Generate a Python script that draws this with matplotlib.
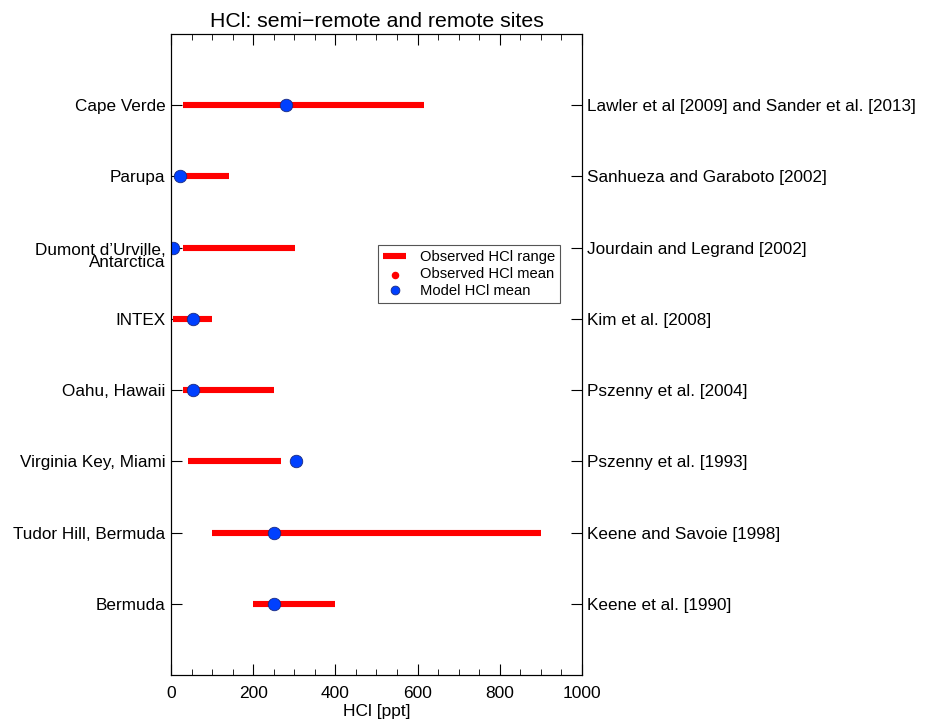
import matplotlib.pyplot as plt
import matplotlib.transforms as mtransforms
from matplotlib.ticker import MultipleLocator

plt.rcParams['font.family'] = ['Liberation Sans', 'DejaVu Sans']

# sites from bottom to top
sites = ["Bermuda", "Tudor Hill, Bermuda", "Virginia Key, Miami", "Oahu, Hawaii",
         "INTEX", "Dumont d\u2019Urville,\nAntarctica", "Parupa", "Cape Verde"]
refs = ["Keene et al. [1990]", "Keene and Savoie [1998]", "Pszenny et al. [1993]",
        "Pszenny et al. [2004]", "Kim et al. [2008]", "Jourdain and Legrand [2002]",
        "Sanhueza and Garaboto [2002]", "Lawler et al [2009] and Sander et al. [2013]"]
obs_min = [200, 100, 40, 30, 4, 30, 10, 29]
obs_max = [400, 900, 267, 250, 100, 301, 140, 616]
model_mean = [250, 250, 303, 53, 54, 5, 22, 280]

pos = list(range(1, len(sites) + 1))

fig = plt.figure(figsize=(9.25, 7.19), dpi=100)
ax = fig.add_axes([0.185, 0.0612, 0.444, 0.8915])

ax.hlines(pos, obs_min, obs_max, color='red', linewidth=4.4,
          label='Observed HCl range', zorder=2)
ax.scatter([], [], color='red', s=40, label='Observed HCl mean')
ax.plot(model_mean, pos, 'o', color='#0040ff', markersize=9,
        markeredgecolor='#1a2a80', markeredgewidth=0.6,
        label='Model HCl mean', zorder=3, linestyle='none')

ax.set_xlim(0, 1000)
ax.set_ylim(0, 9)
ax.xaxis.set_major_locator(MultipleLocator(200))
ax.xaxis.set_minor_locator(MultipleLocator(50))
ax.tick_params(axis='x', which='both', direction='in', top=True, labelsize=12.5, pad=8)
ax.tick_params(axis='x', which='major', length=8)
ax.tick_params(axis='x', which='minor', length=4)
ax.set_yticks(pos)
ax.set_yticklabels(sites)
ax.tick_params(axis='y', direction='in', length=8, labelsize=12.3, pad=4)

# the two-line label sits with its first line on the tick
for lab in ax.get_yticklabels():
    if '\n' in lab.get_text():
        lab.set_verticalalignment('top')
        lab.set_linespacing(0.8)
        lab.set_transform(lab.get_transform() + mtransforms.ScaledTranslation(0, 3.5 / 72, fig.dpi_scale_trans))

ax2 = ax.twinx()
ax2.set_ylim(ax.get_ylim())
ax2.set_yticks(pos)
ax2.set_yticklabels(refs)
ax2.tick_params(axis='y', direction='in', length=8, labelsize=12.3, pad=4)

ax.set_title("HCl: semi\u2212remote and remote sites", fontsize=15.3, pad=5)
ax.set_xlabel("HCl [ppt]", fontsize=12.5, labelpad=2)

leg = ax.legend(loc='center', bbox_to_anchor=(0.725, 0.625), fontsize=10.6,
                fancybox=False, framealpha=1, edgecolor='#555555',
                handlelength=1.6, handletextpad=0.9, labelspacing=0.2,
                borderpad=0.35, markerscale=0.7)
leg.get_frame().set_linewidth(0.8)

fig.savefig("out.png", dpi=100)
